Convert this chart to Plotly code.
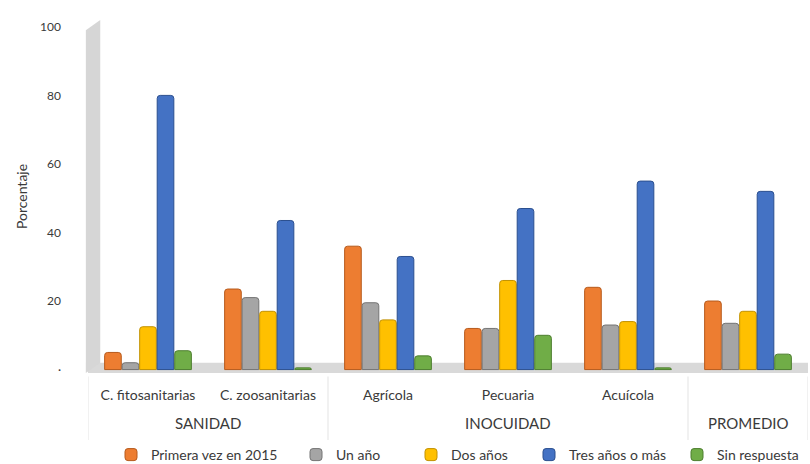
import plotly.graph_objects as go

groups = ["SANIDAD", "SANIDAD", "INOCUIDAD", "INOCUIDAD", "INOCUIDAD", "PROMEDIO"]
categories = ["C. fitosanitarias", "C. zoosanitarias", "Agrícola", "Pecuaria", "Acuícola", " "]

primera_vez_2015 = [5, 23.5, 36, 12, 24, 20]
un_anio = [2, 21, 19.5, 12, 13, 13.5]
dos_anios = [12.5, 17, 14.5, 26, 14, 17]
tres_anios_o_mas = [80, 43.5, 33, 47, 55, 52]
sin_respuesta = [5.5, 0.5, 4, 10, 0.5, 4.5]

series = [
    ("Primera vez en 2015", primera_vez_2015, "#ED7D31", "#B65A1C"),
    ("Un año", un_anio, "#A5A5A5", "#747474"),
    ("Dos años", dos_anios, "#FFC000", "#C29100"),
    ("Tres años o más", tres_anios_o_mas, "#4472C4", "#2B4F8F"),
    ("Sin respuesta", sin_respuesta, "#70AD47", "#4D7E2F"),
]
legend_ids = ["legend", "legend2", "legend3", "legend4", "legend5"]
legend_sym_x = [135, 320, 435, 553, 701]  # approximate pixel centres of legend swatches

font = "Lato, 'Open Sans', sans-serif"
txt = "#3A3A3A"
W, H = 810, 464
M_L, M_R, M_T, M_B = 88, 2, 20, 91
plot_h = H - M_T - M_B

fig = go.Figure()
for (name, vals, col, edge), lid in zip(series, legend_ids):
    fig.add_trace(go.Bar(
        x=categories, y=vals, name=name, legend=lid,
        marker=dict(color=col, line=dict(color=edge, width=1)),
    ))

# 3D-like floor and back wall decorations
fig.add_shape(type="rect", xref="paper", yref="y", x0=0, x1=1, y0=-1, y1=2,
              fillcolor="#D9D9D9", line=dict(width=0), layer="below")
fig.add_shape(type="path", xref="paper", yref="y",
              path="M -0.003,-1 L -0.003,99 L 0.017,102 L 0.017,2 Z",
              fillcolor="#D6D6D6", line=dict(width=0), layer="below")

# group labels and dividers below the category labels
div_bottom = -(440 - (H - M_B)) / plot_h
grp_y = -(423 - (H - M_B)) / plot_h
bounds = [-0.5]
start = 0
for i in range(1, len(groups) + 1):
    if i == len(groups) or groups[i] != groups[start]:
        idxs = list(range(start, i))
        fig.add_annotation(x=sum(idxs) / len(idxs), xref="x", y=grp_y, yref="paper",
                           text=groups[start], showarrow=False, yanchor="middle",
                           font=dict(size=15, color=txt, family=font))
        bounds.append(i - 0.5)
        start = i
for b in bounds:
    fig.add_shape(type="line", xref="x", yref="paper", x0=b, x1=b, y0=-0.01, y1=div_bottom,
                  line=dict(color="#E3E3E3", width=1))

legends = {}
for lid, sx in zip(legend_ids, legend_sym_x):
    legends[lid] = dict(
        orientation="h", xref="container", yref="container",
        x=(sx - 24) / W, xanchor="left", y=1 - 455 / H, yanchor="middle",
        itemwidth=30, bgcolor="rgba(0,0,0,0)",
        font=dict(size=14, color=txt, family=font),
    )

fig.update_layout(
    width=W, height=H,
    margin=dict(l=M_L, r=M_R, t=M_T, b=M_B),
    paper_bgcolor="white", plot_bgcolor="white",
    barmode="group", bargap=0.27, bargroupgap=0.05,
    barcornerradius=3,
    font=dict(family=font, size=14, color=txt),
    showlegend=True,
    xaxis=dict(type="category", range=[-0.5, len(categories) - 0.5],
               showgrid=False, zeroline=False, showline=False, automargin=False,
               ticks="", ticklabelstandoff=12,
               tickfont=dict(size=14, color=txt)),
    yaxis=dict(range=[-1, 102], tickvals=[0, 20, 40, 60, 80, 100],
               ticktext=["·", "20", "40", "60", "80", "100"],
               showgrid=False, zeroline=False, showline=False, automargin=False,
               ticklabelstandoff=26,
               tickfont=dict(size=12, color=txt),
               title=dict(text="Porcentaje", standoff=9, font=dict(size=14, color=txt))),
    **legends,
)

fig.write_html("out.html", config={"displayModeBar": False},
               post_script="document.body.style.margin='0';")
